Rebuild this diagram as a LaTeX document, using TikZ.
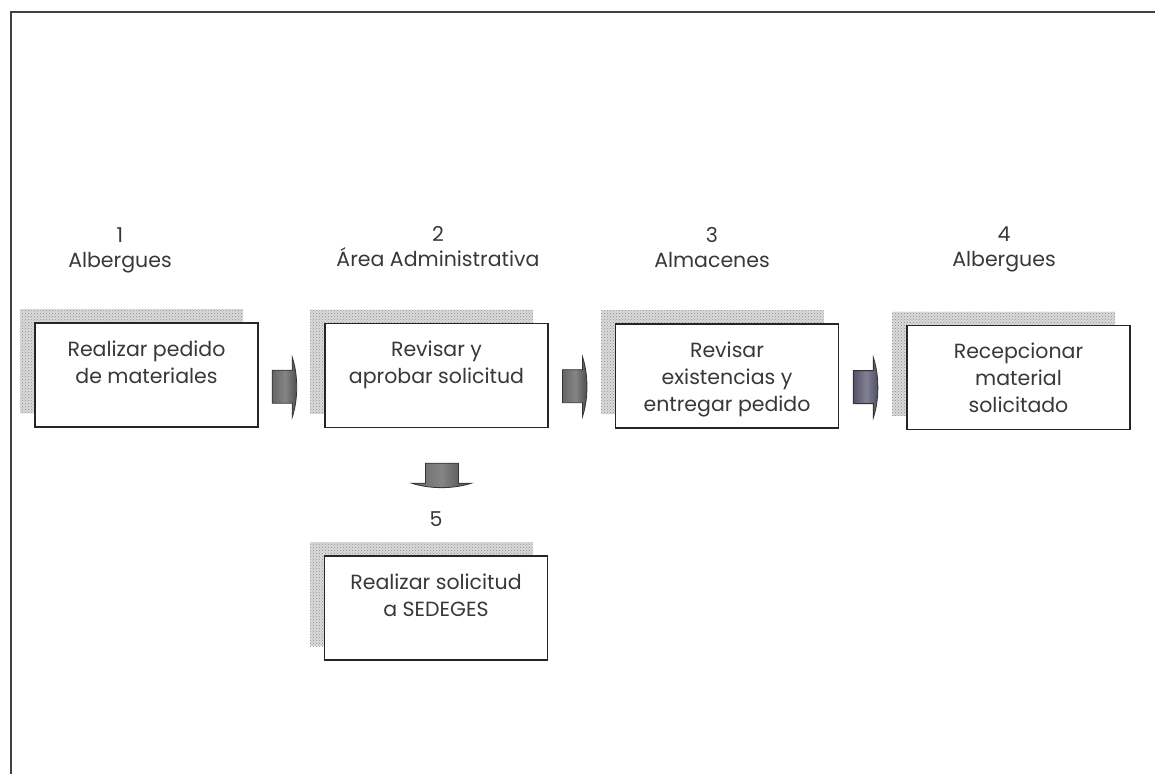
\documentclass[tikz,border=0pt]{standalone}
\usepackage{fontspec}
\setmainfont{Poppins}
\usetikzlibrary{patterns,shadows,calc}

% text of a process box, top aligned
\newcommand\boxtext[1]{\begin{minipage}[c][104pt][t]{218pt}\centering\rule{0pt}{33pt}#1\end{minipage}}

\definecolor{slate}{RGB}{98,96,122}

\begin{document}
\begin{tikzpicture}[x=1pt,y=-1pt,
  txt/.style={font=\fontsize{20.5}{27}\selectfont, text=black!78},
  stepbox/.style={txt, draw=black!85, line width=1.3pt, fill=white,
    minimum width=223pt, minimum height=104pt, inner sep=0pt,
    general shadow={shadow xshift=-15pt, shadow yshift=14pt,
      fill=black!14, postaction={pattern=crosshatch dots, pattern color=black!45}}},
  head/.style={txt, font=\fontsize{20.5}{25}\selectfont, align=center, anchor=north, inner sep=0pt},
  blockarrow/.style={draw=black!80, line width=0.8pt, left color=black!60, right color=black!72, middle color=black!48},
  pics/rarrow/.style={code={
    \path[blockarrow,#1] (-14,-17) -- (6,-17) -- (6,-30) .. controls (12,-12) and (12,12) .. (6,30)
      -- (6,16) -- (-14,16) -- cycle;}},
  pics/rarrow/.default={}
]
\useasboundingbox (0,0) rectangle (1155,774);

% page frame
\draw[line width=1.6pt, black!75] (11,774) -- (11,12) -- (1155,12);

% process boxes
\node[stepbox] (b1) at (146.5,375) {\boxtext{Realizar pedido\\de materiales}};
\node[stepbox] (b2) at (436.5,375.5) {\boxtext{Revisar y\\aprobar solicitud}};
\node[stepbox] (b3) at (727,376) {\boxtext{Revisar\\existencias y\\entregar pedido}};
\node[stepbox] (b4) at (1018.5,377.5) {\boxtext{Recepcionar\\material\\solicitado}};
\node[stepbox] (b5) at (436,608) {\boxtext{Realizar solicitud\\a SEDEGES}};

% headings
\node[head] (h1) at (120,227) {1\\Albergues};
\node[head] (h2) at (438,226) {2\\Área Administrativa};
\node[head] (h3) at (712,227) {3\\Almacenes};
\node[head] (h4) at (1004,227) {4\\Albergues};
\node[head] (h5) at (436,511) {5};

% block arrows between the boxes
\coordinate (a12) at ($(b1.east)!0.42!(b2.west)+(0,12)$);
\coordinate (a23) at ($(b2.east)!0.42!(b3.west)+(0,11)$);
\coordinate (a34) at ($(b3.east)!0.42!(b4.west)+(0,11)$);
\coordinate (a25) at ($(b2.south)+(5,49)$);
\pic at (a12) {rarrow};
\pic at (a23) {rarrow};
\pic at (a34) {rarrow={left color=slate!85!black, right color=slate!75!black, middle color=slate!80!white}};
\pic[rotate=-90] at (a25) {rarrow};
\end{tikzpicture}
\end{document}
